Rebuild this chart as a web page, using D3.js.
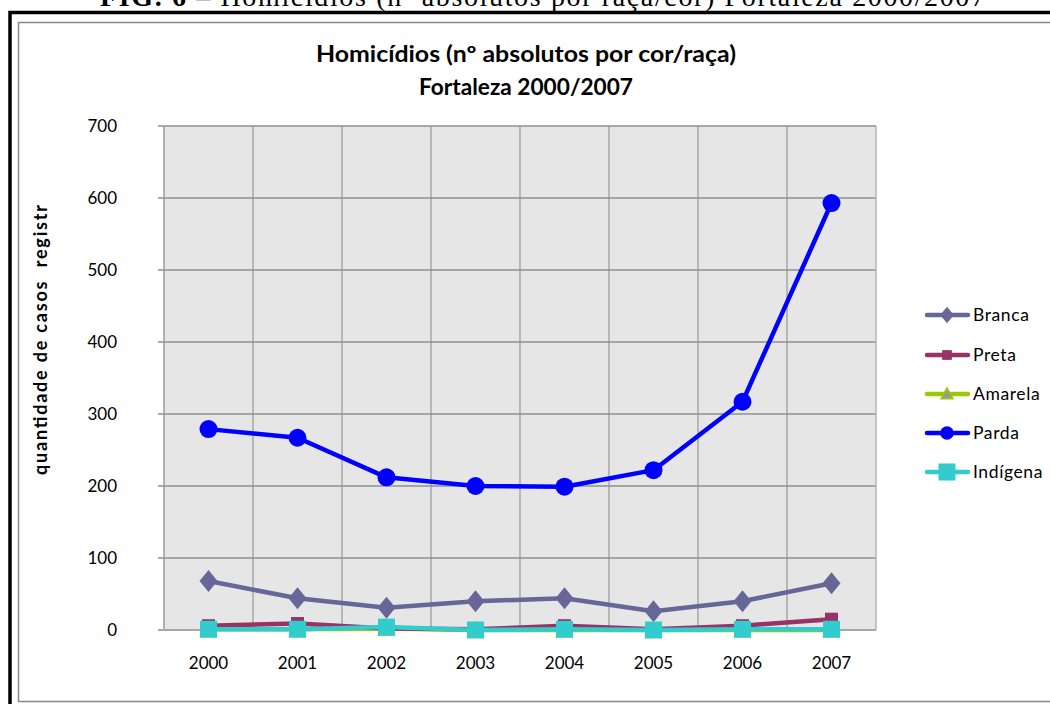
<!DOCTYPE html>
<html>
<head>
<meta charset="utf-8">
<script src="https://cdn.jsdelivr.net/npm/d3@7"></script>
<style>
  html, body { margin: 0; padding: 0; background: #fff; }
  svg { display: block; }
</style>
</head>
<body>
<svg id="chart" width="1050" height="704"></svg>
<script>
// Homicídios em Fortaleza por cor/raça, 2000–2007 (números absolutos)
const years = ["2000", "2001", "2002", "2003", "2004", "2005", "2006", "2007"];
const branca   = [68, 44, 31, 40, 44, 26, 40, 65];
const preta    = [6, 9, 2, 1, 6, 1, 6, 15];
const amarela  = [1, 1, 2, 0, 0, 0, 0, 0];
const parda    = [279, 267, 212, 200, 199, 222, 317, 593];
const indigena = [1, 1, 4, 0, 1, 0, 1, 1];
const yTicks = [0, 100, 200, 300, 400, 500, 600, 700];

const seriesList = [
  { name: "Branca",   values: branca,   color: "#666699", marker: "diamond" },
  { name: "Preta",    values: preta,    color: "#993366", marker: "square" },
  { name: "Amarela",  values: amarela,  color: "#99CC00", marker: "triangle" },
  { name: "Parda",    values: parda,    color: "#0000FF", marker: "circle" },
  { name: "Indígena", values: indigena, color: "#33CCCC", marker: "bigsquare" }
];
// drawing order: Parda and Branca underneath, small series on top
const drawOrder = ["Parda", "Branca", "Amarela", "Preta", "Indígena"];

const svg = d3.select("#chart");
const uiFont = "Lato, 'Open Sans', 'Liberation Sans', sans-serif";

// Caption above the frame (partly cut by the page top)
svg.append("text")
  .attr("x", 100).attr("y", 6)
  .attr("font-family", "'Liberation Serif', 'Times New Roman', serif")
  .attr("font-size", 28)
  .attr("textLength", 885).attr("lengthAdjust", "spacing")
  .attr("fill", "#000")
  .html('<tspan font-weight="bold">FIG. 6</tspan> – Homicídios (nº absolutos por raça/cor) Fortaleza 2000/2007');

// Outer frame (thick black) and inner chart border (gray)
svg.append("path")
  .attr("d", "M10,704 L10,12.5 L1060,12.5")
  .attr("fill", "none").attr("stroke", "#000").attr("stroke-width", 3.5);
svg.append("rect")
  .attr("x", 18.5).attr("y", 22.5).attr("width", 1060).attr("height", 679)
  .attr("fill", "#fff").attr("stroke", "#888").attr("stroke-width", 1.5);

// Title
svg.append("text")
  .attr("x", 526).attr("y", 62)
  .attr("text-anchor", "middle")
  .attr("font-family", uiFont).attr("font-weight", "bold").attr("font-size", 22)
  .attr("textLength", 420).attr("lengthAdjust", "spacingAndGlyphs")
  .attr("fill", "#000")
  .text("Homicídios (nº absolutos por cor/raça)");
svg.append("text")
  .attr("x", 526).attr("y", 95)
  .attr("text-anchor", "middle")
  .attr("font-family", uiFont).attr("font-weight", "bold").attr("font-size", 22)
  .attr("textLength", 214).attr("lengthAdjust", "spacingAndGlyphs")
  .attr("fill", "#000")
  .text("Fortaleza 2000/2007");

// Plot area
const plot = { left: 164, top: 126, right: 876, bottom: 630 };
const x = d3.scaleBand().domain(years).range([plot.left, plot.right]);
const y = d3.scaleLinear().domain([0, 700]).range([plot.bottom, plot.top]);
const cx = d => x(d) + x.bandwidth() / 2;

svg.append("rect")
  .attr("x", plot.left).attr("y", plot.top)
  .attr("width", plot.right - plot.left).attr("height", plot.bottom - plot.top)
  .attr("fill", "#e6e6e6");

// Horizontal gridlines + left ticks
svg.append("g")
  .selectAll("line")
  .data(yTicks.filter(t => t > 0))
  .join("line")
  .attr("x1", plot.left - 6).attr("x2", plot.right)
  .attr("y1", d => y(d)).attr("y2", d => y(d))
  .attr("stroke", "#8f8f8f").attr("stroke-width", 1.3);

// Vertical gridlines at category boundaries
svg.append("g")
  .selectAll("line")
  .data(years.slice(1))
  .join("line")
  .attr("x1", d => x(d)).attr("x2", d => x(d))
  .attr("y1", plot.top).attr("y2", plot.bottom)
  .attr("stroke", "#8f8f8f").attr("stroke-width", 1.1);

// Right edge of plot
svg.append("line")
  .attr("x1", plot.right).attr("x2", plot.right)
  .attr("y1", plot.top).attr("y2", plot.bottom)
  .attr("stroke", "#b5b5b5").attr("stroke-width", 1.5);

// Y axis line and baseline
svg.append("line")
  .attr("x1", plot.left).attr("x2", plot.left)
  .attr("y1", plot.top).attr("y2", plot.bottom)
  .attr("stroke", "#9a9a9a").attr("stroke-width", 1.5);
svg.append("line")
  .attr("x1", plot.left - 6).attr("x2", plot.right)
  .attr("y1", y(0)).attr("y2", y(0))
  .attr("stroke", "#a8a8a8").attr("stroke-width", 2);

// Y tick labels
svg.append("g")
  .selectAll("text")
  .data(yTicks)
  .join("text")
  .attr("x", 117).attr("y", d => y(d) + 6)
  .attr("text-anchor", "end")
  .attr("font-family", uiFont).attr("font-size", 17)
  .attr("fill", "#000")
  .text(d => d);

// X tick labels
svg.append("g")
  .selectAll("text")
  .data(years)
  .join("text")
  .attr("x", d => cx(d)).attr("y", 669)
  .attr("text-anchor", "middle")
  .attr("font-family", uiFont).attr("font-size", 17)
  .attr("fill", "#000")
  .text(d => d);

// Y axis title
svg.append("text")
  .attr("transform", "translate(47,340) rotate(-90)")
  .attr("text-anchor", "middle")
  .attr("font-family", uiFont).attr("font-weight", "bold").attr("font-size", 18)
  .attr("textLength", 270).attr("lengthAdjust", "spacing")
  .attr("fill", "#000")
  .style("white-space", "pre")
  .text("quantidade de casos  registr");

// Marker drawing helper
function drawMarker(g, type, color, px, py, scale = 1) {
  if (type === "circle") {
    g.append("circle").attr("cx", px).attr("cy", py).attr("r", 9 * scale).attr("fill", color);
  } else if (type === "diamond") {
    const w = 9 * scale, h = 11 * scale;
    g.append("path")
      .attr("d", `M${px},${py - h} L${px + w},${py} L${px},${py + h} L${px - w},${py} Z`)
      .attr("fill", color);
  } else if (type === "square") {
    const s = 6.5 * scale;
    g.append("rect").attr("x", px - s).attr("y", py - s).attr("width", 2 * s).attr("height", 2 * s).attr("fill", color);
  } else if (type === "bigsquare") {
    const s = 8.5 * scale;
    g.append("rect").attr("x", px - s).attr("y", py - s).attr("width", 2 * s).attr("height", 2 * s).attr("fill", color);
  } else if (type === "triangle") {
    const s = 8 * scale;
    g.append("path")
      .attr("d", `M${px},${py - s} L${px + s},${py + s * 0.8} L${px - s},${py + s * 0.8} Z`)
      .attr("fill", "#999999").attr("stroke", color).attr("stroke-width", 1.5);
  }
}

// Series lines and markers
const line = d3.line().x((d, i) => cx(years[i])).y(d => y(d));
const seriesG = svg.append("g");
drawOrder.forEach(name => {
  const s = seriesList.find(k => k.name === name);
  const g = seriesG.append("g");
  g.append("path")
    .datum(s.values)
    .attr("d", line)
    .attr("fill", "none")
    .attr("stroke", s.color)
    .attr("stroke-width", 4.5)
    .attr("stroke-linejoin", "round");
  s.values.forEach((v, i) => drawMarker(g, s.marker, s.color, cx(years[i]), y(v)));
});

// Legend
const legendRows = [315, 355, 394, 433, 472];
const legend = svg.append("g");
seriesList.forEach((s, i) => {
  const ly = legendRows[i];
  legend.append("line")
    .attr("x1", 927).attr("x2", 968).attr("y1", ly).attr("y2", ly)
    .attr("stroke", s.color).attr("stroke-width", 4.5).attr("stroke-linecap", "round");
  const scale = s.marker === "bigsquare" ? 1 : 0.75;
  drawMarker(legend, s.marker, s.color, 947, ly, scale);
  legend.append("text")
    .attr("x", 973).attr("y", ly + 6)
    .attr("font-family", uiFont).attr("font-size", 17.5)
    .attr("letter-spacing", 0.6)
    .attr("fill", "#000")
    .text(s.name);
});
</script>
</body>
</html>
